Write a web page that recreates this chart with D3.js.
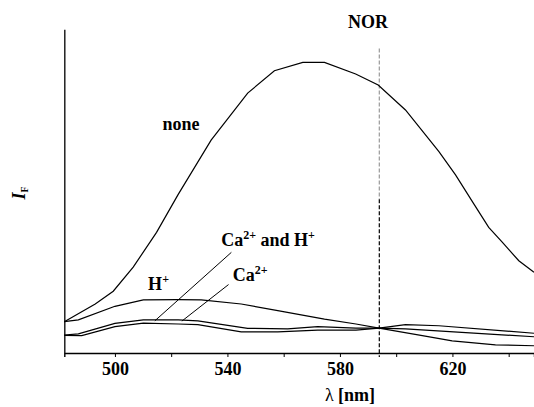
<!DOCTYPE html>
<html>
<head>
<meta charset="utf-8">
<script src="https://cdn.jsdelivr.net/npm/d3@7"></script>
<style>
  body { margin: 0; background: #fff; }
  text { font-family: "Liberation Serif", "Times New Roman", serif; font-weight: bold; fill: #000; }
</style>
</head>
<body>
<svg id="chart" width="534" height="407"></svg>
<script>
// wavelength [nm], fluorescence intensity (arb. units)
const noneSeries = [
  [482, 10.8], [493, 16.9], [499.4, 21.3], [506.5, 29.6], [514.8, 41.6], [522.4, 54.5],
  [534.2, 73.4], [547.2, 89.6], [556.7, 97.3], [566.8, 100.2], [574.5, 100.2], [585.6, 96.2],
  [593.6, 92.4], [603.3, 83.8], [615.2, 69.4], [621.1, 61.4], [627.6, 51.4], [632.9, 43.3],
  [637.7, 38.2], [643.6, 31.8], [649, 27.8]
];
const hSeries = [
  [482, 10.8], [487, 11.4], [500, 16.1], [510.1, 18.3], [522.5, 18.4], [530.7, 18.3],
  [544.9, 16.9], [557.9, 14.6], [574.5, 11.7], [585.7, 10.0], [593.9, 8.6], [609.3, 6.0],
  [619.9, 4.2], [635.3, 2.8], [649, 2.5]
];
const caHSeries = [
  [482, 6.2], [487, 6.6], [500, 10.2], [510.1, 11.4], [522.5, 11.4], [529.5, 11.1],
  [547.2, 8.5], [561.4, 8.3], [572.1, 9.1], [585.7, 8.6], [593.9, 8.6], [603.3, 9.8],
  [615.2, 9.4], [649, 6.8]
];
const caSeries = [
  [482, 6.1], [488.2, 6.0], [500, 9.1], [510.1, 10.3], [522.5, 10.0], [529.5, 9.8],
  [544.9, 7.3], [557.9, 7.3], [572.1, 7.9], [585.7, 7.9], [593.9, 8.6], [603.3, 8.3],
  [649, 5.6]
];
const xTicks = [500, 520, 540, 560, 580, 600, 620, 640];
const xTickLabels = [500, 540, 580, 620];
const norWavelength = 594;

const svg = d3.select('#chart');

const x = d3.scaleLinear().domain([482, 649]).range([64.3, 534]);
const y = d3.scaleLinear().domain([0, 111.6]).range([353, 29.3]);

// x axis
const xAxis = svg.append('g')
  .attr('transform', `translate(0,${y(0)})`)
  .call(d3.axisBottom(x)
    .tickValues(xTicks)
    .tickSize(4)
    .tickSizeOuter(4)
    .tickPadding(5)
    .tickFormat(d => xTickLabels.includes(d) ? d : ''));
xAxis.select('.domain').attr('stroke', '#000').attr('stroke-width', 1.4);
xAxis.selectAll('.tick line').attr('stroke', '#000').attr('stroke-width', 1);
xAxis.selectAll('.tick text')
  .attr('font-family', '"Liberation Serif", "Times New Roman", serif')
  .attr('font-weight', 'bold')
  .attr('font-size', 18)
  .attr('fill', '#000');

// y axis, no ticks
const yAxis = svg.append('g')
  .attr('transform', `translate(${x.range()[0]},0)`)
  .call(d3.axisLeft(y).tickValues([]).tickSizeOuter(0));
yAxis.select('.domain').attr('stroke', '#111').attr('stroke-width', 1.4);

// NOR marker
svg.append('line')
  .attr('x1', x(norWavelength)).attr('x2', x(norWavelength))
  .attr('y1', y(105)).attr('y2', y(53))
  .attr('stroke', '#999').attr('stroke-width', 1.2)
  .attr('stroke-dasharray', '4,2');
svg.append('line')
  .attr('x1', x(norWavelength)).attr('x2', x(norWavelength))
  .attr('y1', y(53)).attr('y2', y(0) + 4)
  .attr('stroke', '#000').attr('stroke-width', 1.2)
  .attr('stroke-dasharray', '4,2');
svg.append('text')
  .attr('x', x(590)).attr('y', 28)
  .attr('text-anchor', 'middle')
  .attr('font-size', 18)
  .text('NOR');

// curves
const line = d3.line()
  .x(d => x(d[0]))
  .y(d => y(d[1]));

svg.append('g').selectAll('path')
  .data([noneSeries, hSeries, caHSeries, caSeries])
  .enter().append('path')
  .attr('d', line)
  .attr('fill', 'none')
  .attr('stroke', '#000')
  .attr('stroke-width', 1.2);

// labels
svg.append('text')
  .attr('x', x(516.9)).attr('y', y(76.9))
  .attr('font-size', 18)
  .text('none');

const hLabel = svg.append('text')
  .attr('x', x(511.8)).attr('y', y(21.7))
  .attr('font-size', 18);
hLabel.append('tspan').text('H');
hLabel.append('tspan').attr('font-size', 12).attr('dy', -7).text('+');

const caHLabel = svg.append('text')
  .attr('x', x(537.8)).attr('y', y(37))
  .attr('font-size', 18);
caHLabel.append('tspan').text('Ca');
caHLabel.append('tspan').attr('font-size', 12).attr('dy', -7).text('2+');
caHLabel.append('tspan').attr('dy', 7).text(' and H');
caHLabel.append('tspan').attr('font-size', 12).attr('dy', -7).text('+');

const caLabel = svg.append('text')
  .attr('x', x(541.9)).attr('y', y(24.7))
  .attr('font-size', 18);
caLabel.append('tspan').text('Ca');
caLabel.append('tspan').attr('font-size', 12).attr('dy', -7).text('2+');

// leader lines
const leaders = [
  [[541.4, 34.7], [514.2, 11.1]],
  [[540.4, 23.6], [523.8, 11.0]]
];
svg.append('g').selectAll('line')
  .data(leaders)
  .enter().append('line')
  .attr('x1', d => x(d[0][0])).attr('y1', d => y(d[0][1]))
  .attr('x2', d => x(d[1][0])).attr('y2', d => y(d[1][1]))
  .attr('stroke', '#000')
  .attr('stroke-width', 1);

// axis titles
const xTitle = svg.append('text')
  .attr('x', 350).attr('y', 401)
  .attr('text-anchor', 'middle')
  .attr('font-size', 18);
xTitle.append('tspan').attr('font-weight', 'normal').text('λ');
xTitle.append('tspan').text(' [nm]');

const yTitle = svg.append('text')
  .attr('transform', 'translate(25,193) rotate(-90)')
  .attr('text-anchor', 'middle')
  .attr('font-size', 18);
yTitle.append('tspan').attr('font-style', 'italic').text('I');
yTitle.append('tspan').attr('font-size', 10).attr('dy', 3).text('F');
</script>
</body>
</html>
